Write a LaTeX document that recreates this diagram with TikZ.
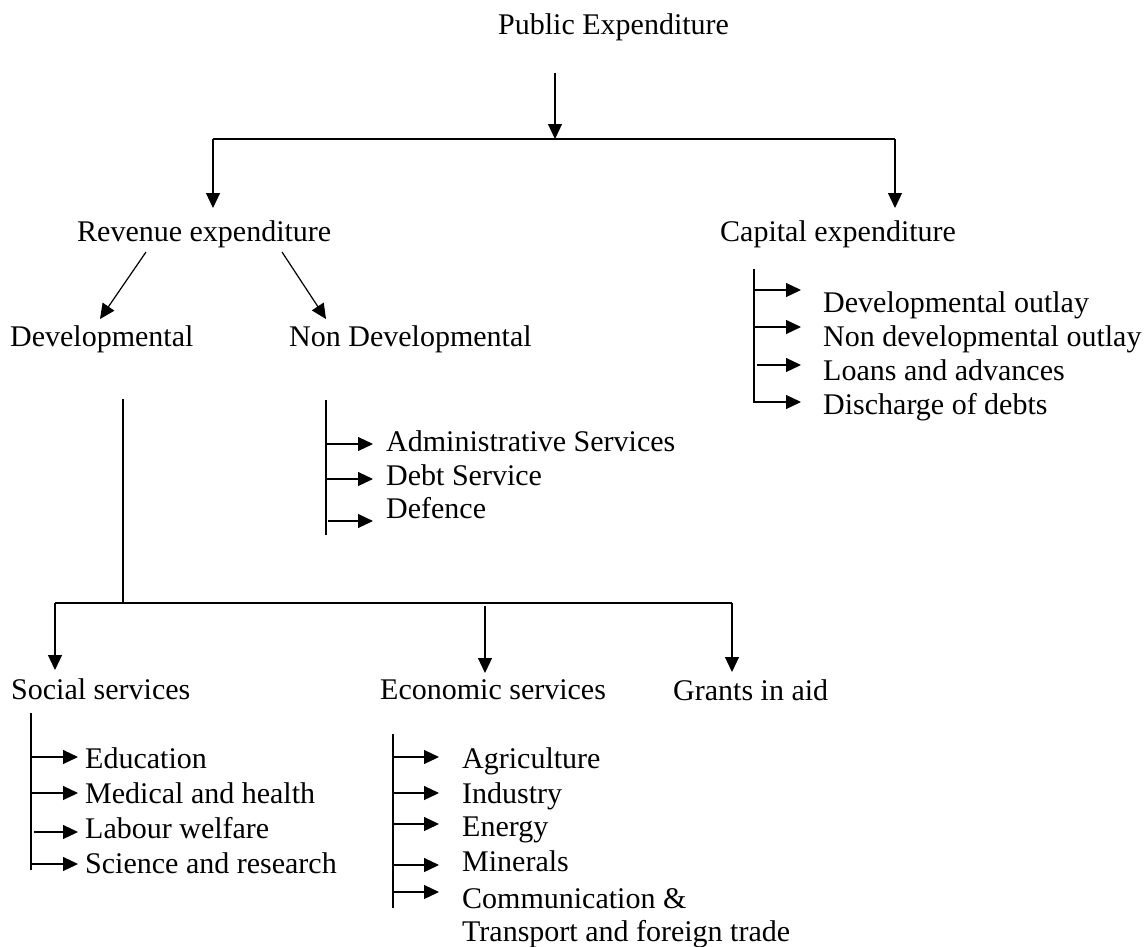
\documentclass[tikz,border=0pt]{standalone}
\usepackage{fontspec}
\setmainfont{Liberation Serif}
\usetikzlibrary{arrows.meta}
\begin{document}
\begin{tikzpicture}[x=1pt,y=-1pt,
  lbl/.style={anchor=base west,inner sep=0pt,font=\fontsize{30}{36}\selectfont},
  ln/.style={line width=1.2pt},
  arr/.style={ln,-{Triangle[length=15pt,width=14pt]}}]
\useasboundingbox (0,0) rectangle (1146,946);

% ---- top level ----
\node[lbl] (pe) at (498,34) {Public Expenditure};
\node[lbl] (rev) at (77,241) {Revenue expenditure};
\node[lbl] (cap) at (720,241) {Capital expenditure};
\coordinate (pes) at (555,73);
\coordinate (pej) at (555,139);
\coordinate (bl) at (213,139);
\coordinate (br) at (895,139);
\coordinate (blt) at (213,208);
\coordinate (brt) at (895,208);
\draw[arr] (pes) -- (pej);
\draw[ln] (bl) -- (br);
\draw[arr] (bl) -- (blt);
\draw[arr] (br) -- (brt);

% ---- revenue split ----
\node[lbl] (dev) at (10,346) {Developmental};
\node[lbl] (ndev) at (289,346) {Non Developmental};
\coordinate (rl) at (146,252);
\coordinate (rr) at (282,252);
\coordinate (rlt) at (100,319);
\coordinate (rrt) at (326,319);
\draw[arr] (rl) -- (rlt);
\draw[arr] (rr) -- (rrt);

% ---- capital expenditure items ----
\coordinate (ct) at (754,269);
\coordinate (cb) at (754,403);
\draw[ln] (ct) -- (cb);
\node[lbl] (c1) at (823,312) {Developmental outlay};
\node[lbl] (c2) at (823,346) {Non developmental outlay};
\node[lbl] (c3) at (823,380) {Loans and advances};
\node[lbl] (c4) at (823,414) {Discharge of debts};
\coordinate (c1s) at (754,290); \coordinate (c1e) at (801,290);
\coordinate (c2s) at (754,327); \coordinate (c2e) at (801,327);
\coordinate (c3s) at (757,365); \coordinate (c3e) at (801,365);
\coordinate (c4s) at (754,402); \coordinate (c4e) at (801,402);
\foreach \i in {1,...,4} \draw[arr] (c\i s) -- (c\i e);

% ---- non developmental items ----
\coordinate (nt) at (326,400);
\coordinate (nb) at (326,535);
\draw[ln] (nt) -- (nb);
\node[lbl] (n1) at (386,451) {Administrative Services};
\node[lbl] (n2) at (386,485) {Debt Service};
\node[lbl] (n3) at (386,518) {Defence};
\coordinate (n1s) at (326,444); \coordinate (n1e) at (373,444);
\coordinate (n2s) at (326,479); \coordinate (n2e) at (373,479);
\coordinate (n3s) at (328,521); \coordinate (n3e) at (373,521);
\foreach \i in {1,...,3} \draw[arr] (n\i s) -- (n\i e);

% ---- developmental branches ----
\coordinate (dt) at (123,399);
\coordinate (dj) at (123,603);
\coordinate (hl) at (55,603);
\coordinate (hr) at (732,603);
\coordinate (hls) at (55,670);
\coordinate (hms) at (485,606);
\coordinate (hme) at (485,673);
\coordinate (hre) at (732,672);
\draw[ln] (dt) -- (dj);
\draw[ln] (hl) -- (hr);
\draw[arr] (hl) -- (hls);
\draw[arr] (hms) -- (hme);
\draw[arr] (hr) -- (hre);
\node[lbl] (soc) at (11,699) {Social services};
\node[lbl] (eco) at (380,699) {Economic services};
\node[lbl] (gra) at (673,700) {Grants in aid};

% ---- social services items ----
\coordinate (st) at (31,713);
\coordinate (sb) at (31,870);
\draw[ln] (st) -- (sb);
\node[lbl] (s1) at (85,768) {Education};
\node[lbl] (s2) at (85,803) {Medical and health};
\node[lbl] (s3) at (85,838) {Labour welfare};
\node[lbl] (s4) at (85,873) {Science and research};
\coordinate (s1s) at (31,757); \coordinate (s1e) at (78,757);
\coordinate (s2s) at (31,793); \coordinate (s2e) at (78,793);
\coordinate (s3s) at (34,832); \coordinate (s3e) at (78,832);
\coordinate (s4s) at (31,864); \coordinate (s4e) at (78,864);
\foreach \i in {1,...,4} \draw[arr] (s\i s) -- (s\i e);

% ---- economic services items ----
\coordinate (et) at (393,734);
\coordinate (eb) at (393,908);
\draw[ln] (et) -- (eb);
\node[lbl] (e1) at (462,768) {Agriculture};
\node[lbl] (e2) at (462,803) {Industry};
\node[lbl] (e3) at (462,836) {Energy};
\node[lbl] (e4) at (462,871) {Minerals};
\node[lbl] (e5) at (462,908) {Communication \&};
\node[lbl] (e6) at (462,941) {Transport and foreign trade};
\coordinate (e1s) at (393,757); \coordinate (e1e) at (439,757);
\coordinate (e2s) at (393,793); \coordinate (e2e) at (439,793);
\coordinate (e3s) at (393,824); \coordinate (e3e) at (439,824);
\coordinate (e4s) at (393,865); \coordinate (e4e) at (439,865);
\coordinate (e5s) at (393,892); \coordinate (e5e) at (439,892);
\foreach \i in {1,...,5} \draw[arr] (e\i s) -- (e\i e);
\end{tikzpicture}
\end{document}
